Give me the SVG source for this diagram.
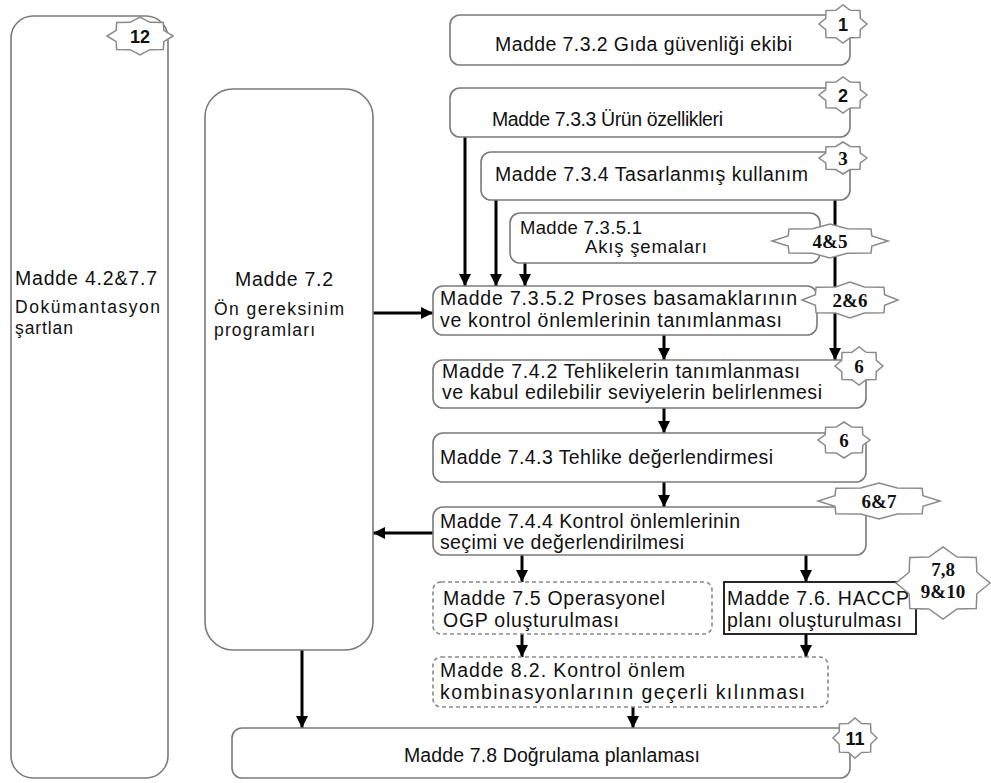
<svg xmlns="http://www.w3.org/2000/svg" width="991" height="783" viewBox="0 0 991 783">
  <style>
    .box { fill: #ffffff; stroke: #7a7a7a; stroke-width: 1.6; }
    .dash { fill: #ffffff; stroke: #8a8a8a; stroke-width: 1.6; stroke-dasharray: 4 3; }
    .plain { fill: #ffffff; stroke: #111111; stroke-width: 1.8; }
    .badge { fill: #ffffff; stroke: #8a8a8a; stroke-width: 1.5; vector-effect: non-scaling-stroke; }
    .t { font-family: "Liberation Sans", Arial, sans-serif; font-size: 19.5px; fill: #111111; }
    .s { font-size: 18.5px; }
    .n { font-size: 17.5px; }
    .bs { font-family: "Liberation Sans", Arial, sans-serif; font-size: 18px; font-weight: bold; fill: #111111; text-anchor: middle; }
    .bf { font-family: "Liberation Serif", "Times New Roman", serif; font-size: 19px; font-weight: bold; fill: #111111; text-anchor: middle; }
    .wire { stroke: #000000; stroke-width: 3; fill: none; marker-end: url(#head); }
  </style>
  <defs>
    <marker id="head" viewBox="0 0 12 12" refX="12" refY="6" markerWidth="12" markerHeight="12" markerUnits="userSpaceOnUse" orient="auto">
      <path d="M0,0 L12,6 L0,12 Z" fill="#000000"/>
    </marker>
    <!-- eight-pointed seal, unit radius; scaled per badge -->
    <polygon id="seal" class="badge" points="1,0 0.721,0.299 0.707,0.707 0.299,0.721 0,1 -0.299,0.721 -0.707,0.707 -0.721,0.299 -1,0 -0.721,-0.299 -0.707,-0.707 -0.299,-0.721 0,-1 0.299,-0.721 0.707,-0.707 0.721,-0.299"/>
  </defs>

  <rect width="991" height="783" fill="#ffffff"/>

  <!-- connectors -->
  <g id="connectors">
    <line class="wire" x1="465" y1="137" x2="465" y2="286"/>
    <line class="wire" x1="496" y1="200" x2="496" y2="286"/>
    <line class="wire" x1="525" y1="263" x2="525" y2="286"/>
    <line class="wire" x1="835" y1="200" x2="835" y2="360"/>
    <line class="wire" x1="373" y1="313" x2="433" y2="313"/>
    <line class="wire" x1="664" y1="335" x2="664" y2="360"/>
    <line class="wire" x1="664" y1="408" x2="664" y2="433"/>
    <line class="wire" x1="664" y1="482" x2="664" y2="507"/>
    <line class="wire" x1="433" y1="533" x2="373" y2="533"/>
    <line class="wire" x1="522" y1="555" x2="522" y2="582"/>
    <line class="wire" x1="806" y1="555" x2="806" y2="582"/>
    <line class="wire" x1="522" y1="634" x2="522" y2="657"/>
    <line class="wire" x1="806" y1="634" x2="806" y2="657"/>
    <line class="wire" x1="633" y1="707" x2="633" y2="728"/>
    <line class="wire" x1="302" y1="650" x2="302" y2="728"/>
  </g>

  <!-- documentation requirements -->
  <g id="n12">
    <rect class="box" x="11" y="16" width="157" height="762" rx="22"/>
    <text class="t" x="15" y="285" textLength="142">Madde 4.2&amp;7.7</text>
    <text class="t n" x="15" y="313" textLength="145">Dokümantasyon</text>
    <text class="t n" x="15" y="334" textLength="58">şartlan</text>
    <use href="#seal" transform="translate(140,36) scale(33,19)"/>
    <text class="bs" x="140" y="43">12</text>
  </g>

  <!-- prerequisite programmes -->
  <g id="n72">
    <rect class="box" x="205" y="89" width="168" height="561" rx="28"/>
    <text class="t" x="235" y="286" textLength="98">Madde 7.2</text>
    <text class="t n" x="214" y="315" textLength="130">Ön gereksinim</text>
    <text class="t n" x="214" y="336" textLength="101">programları</text>
  </g>

  <g id="n1">
    <rect class="box" x="450" y="15" width="400" height="50" rx="10"/>
    <text class="t" x="495" y="51" textLength="297">Madde 7.3.2 Gıda güvenliği ekibi</text>
    <use href="#seal" transform="translate(843,24) scale(24,19)"/>
    <text class="bs" x="843" y="31">1</text>
  </g>

  <g id="n2">
    <rect class="box" x="450" y="88" width="400" height="49" rx="10"/>
    <text class="t" x="492" y="126" textLength="231">Madde 7.3.3 Ürün özellikleri</text>
    <use href="#seal" transform="translate(843,95) scale(24,18)"/>
    <text class="bs" x="843" y="102">2</text>
  </g>

  <g id="n3">
    <rect class="box" x="481" y="152" width="369" height="48" rx="10"/>
    <text class="t" x="495" y="181" textLength="313">Madde 7.3.4 Tasarlanmış kullanım</text>
    <use href="#seal" transform="translate(843,158) scale(24,16)"/>
    <text class="bf" x="843" y="165">3</text>
  </g>

  <g id="n45">
    <rect class="box" x="510" y="213" width="310" height="50" rx="10"/>
    <text class="t s" x="520" y="234" textLength="122">Madde 7.3.5.1</text>
    <text class="t s" x="585" y="253" textLength="122">Akış şemaları</text>
    <use href="#seal" transform="translate(830,241) scale(58,17)"/>
    <text class="bf" x="830" y="248">4&amp;5</text>
  </g>

  <g id="n7352">
    <rect class="box" x="433" y="286" width="384" height="49" rx="10"/>
    <text class="t" x="440" y="305" textLength="357">Madde 7.3.5.2 Proses basamaklarının</text>
    <text class="t" x="440" y="327" textLength="342">ve kontrol önlemlerinin tanımlanması</text>
    <use href="#seal" transform="translate(850,300) scale(48,18)"/>
    <text class="bf" x="850" y="307">2&amp;6</text>
  </g>

  <g id="n742">
    <rect class="box" x="433" y="360" width="433" height="48" rx="10"/>
    <text class="t" x="442" y="378" textLength="358">Madde 7.4.2 Tehlikelerin tanımlanması</text>
    <text class="t" x="442" y="399" textLength="380">ve kabul edilebilir seviyelerin belirlenmesi</text>
    <use href="#seal" transform="translate(859,366) scale(24,19)"/>
    <text class="bf" x="859" y="373">6</text>
  </g>

  <g id="n743">
    <rect class="box" x="433" y="433" width="433" height="49" rx="10"/>
    <text class="t" x="440" y="464" textLength="333">Madde 7.4.3 Tehlike değerlendirmesi</text>
    <use href="#seal" transform="translate(844,440) scale(26,18)"/>
    <text class="bf" x="844" y="447">6</text>
  </g>

  <g id="n744">
    <rect class="box" x="433" y="507" width="433" height="48" rx="10"/>
    <text class="t" x="440" y="528" textLength="300">Madde 7.4.4 Kontrol önlemlerinin</text>
    <text class="t" x="440" y="549" textLength="244">seçimi ve değerlendirilmesi</text>
    <use href="#seal" transform="translate(879,501) scale(61,18)"/>
    <text class="bf" x="879" y="508">6&amp;7</text>
  </g>

  <g id="n75">
    <rect class="dash" x="433" y="582" width="279" height="52" rx="8"/>
    <text class="t" x="443" y="605" textLength="222">Madde 7.5 Operasyonel</text>
    <text class="t" x="443" y="627" textLength="176">OGP oluşturulması</text>
  </g>

  <g id="n76">
    <rect class="plain" x="724" y="582" width="192" height="52"/>
    <text class="t" x="727" y="605" textLength="182">Madde 7.6. HACCP</text>
    <text class="t" x="727" y="627" textLength="175">planı oluşturulması</text>
    <use href="#seal" transform="translate(943,583) scale(47,36)"/>
    <text class="bf" x="943" y="576">7,8</text>
    <text class="bf" x="943" y="598">9&amp;10</text>
  </g>

  <g id="n82">
    <rect class="dash" x="433" y="657" width="395" height="50" rx="8"/>
    <text class="t" x="440" y="677" textLength="245">Madde 8.2. Kontrol önlem</text>
    <text class="t" x="440" y="699" textLength="365">kombinasyonlarının geçerli kılınması</text>
  </g>

  <g id="n78">
    <rect class="box" x="232" y="728" width="618" height="50" rx="10"/>
    <text class="t" x="404" y="762" textLength="296">Madde 7.8 Doğrulama planlaması</text>
    <use href="#seal" transform="translate(855,738) scale(22,20)"/>
    <text class="bs" x="855" y="745">11</text>
  </g>
</svg>
